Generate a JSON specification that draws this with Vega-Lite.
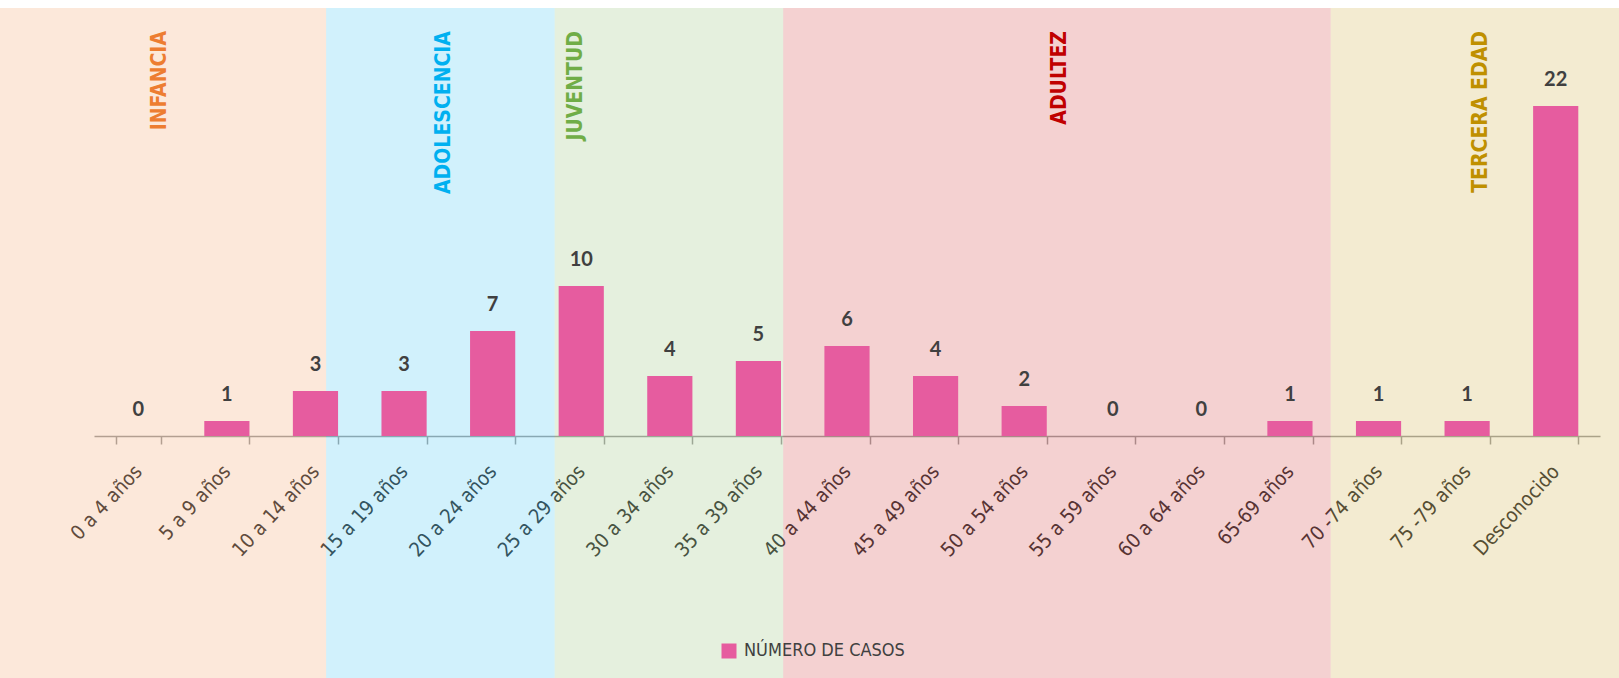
{
  "$schema": "https://vega.github.io/schema/vega-lite/v6.json",
  "width": 1506,
  "height": 428,
  "autosize": {"type": "none"},
  "padding": {"left": 94, "top": 8, "right": 19, "bottom": 242},
  "background": "white",
  "config": {"view": {"stroke": null}},
  "datasets": {
    "etapas": [
      {"etapa": "INFANCIA", "desde": -10, "hasta": 13.1, "edad_etiqueta": 3.7},
      {"etapa": "ADOLESCENCIA", "desde": 13.1, "hasta": 26, "edad_etiqueta": 19.75},
      {"etapa": "JUVENTUD", "desde": 26, "hasta": 38.9, "edad_etiqueta": 27.2},
      {"etapa": "ADULTEZ", "desde": 38.9, "hasta": 69.8, "edad_etiqueta": 54.5},
      {"etapa": "TERCERA EDAD", "desde": 69.8, "hasta": 95, "edad_etiqueta": 78.3}
    ],
    "casos": [
      {"grupo": "0 a 4 años", "casos": 0, "serie": "NÚMERO DE CASOS"},
      {"grupo": "5 a 9 años", "casos": 1, "serie": "NÚMERO DE CASOS"},
      {"grupo": "10 a 14 años", "casos": 3, "serie": "NÚMERO DE CASOS"},
      {"grupo": "15 a 19 años", "casos": 3, "serie": "NÚMERO DE CASOS"},
      {"grupo": "20 a 24 años", "casos": 7, "serie": "NÚMERO DE CASOS"},
      {"grupo": "25 a 29 años", "casos": 10, "serie": "NÚMERO DE CASOS"},
      {"grupo": "30 a 34 años", "casos": 4, "serie": "NÚMERO DE CASOS"},
      {"grupo": "35 a 39 años", "casos": 5, "serie": "NÚMERO DE CASOS"},
      {"grupo": "40 a 44 años", "casos": 6, "serie": "NÚMERO DE CASOS"},
      {"grupo": "45 a 49 años", "casos": 4, "serie": "NÚMERO DE CASOS"},
      {"grupo": "50 a 54 años", "casos": 2, "serie": "NÚMERO DE CASOS"},
      {"grupo": "55 a 59 años", "casos": 0, "serie": "NÚMERO DE CASOS"},
      {"grupo": "60 a 64 años", "casos": 0, "serie": "NÚMERO DE CASOS"},
      {"grupo": "65-69 años", "casos": 1, "serie": "NÚMERO DE CASOS"},
      {"grupo": "70 -74 años", "casos": 1, "serie": "NÚMERO DE CASOS"},
      {"grupo": "75 -79 años", "casos": 1, "serie": "NÚMERO DE CASOS"},
      {"grupo": "Desconocido", "casos": 22, "serie": "NÚMERO DE CASOS"}
    ]
  },
  "layer": [
    {
      "data": {"name": "etapas"},
      "mark": {"type": "rect", "fillOpacity": 0.18},
      "encoding": {
        "x": {"field": "desde", "type": "quantitative", "scale": {"domain": [0, 85], "nice": false, "zero": false}, "axis": null},
        "x2": {"field": "hasta"},
        "y": {"datum": 28.533, "type": "quantitative", "scale": {"domain": [0, 28.533], "nice": false}, "axis": null},
        "y2": {"datum": -20},
        "fill": {
          "field": "etapa", "type": "nominal",
          "scale": {"domain": ["INFANCIA", "ADOLESCENCIA", "JUVENTUD", "ADULTEZ", "TERCERA EDAD"], "range": ["#ED7D31", "#00B0F0", "#70AD47", "#C00000", "#BF9000"]},
          "legend": null
        }
      }
    },
    {
      "data": {"name": "etapas"},
      "mark": {"type": "text", "angle": 270, "align": "right", "baseline": "middle", "font": "Liberation Sans Narrow, DejaVu Sans Condensed, sans-serif", "fontWeight": "bold", "fontSize": 21},
      "encoding": {
        "x": {"field": "edad_etiqueta", "type": "quantitative", "scale": {"domain": [0, 85], "nice": false, "zero": false}, "axis": null},
        "y": {"datum": 27.0, "type": "quantitative"},
        "text": {"field": "etapa"},
        "fill": {"field": "etapa", "type": "nominal", "legend": null}
      }
    },
    {
      "data": {"name": "casos"},
      "mark": {"type": "bar"},
      "encoding": {
        "x": {
          "field": "grupo", "type": "nominal", "sort": null,
          "scale": {"paddingInner": 0.49, "paddingOuter": 0.245},
          "axis": {
            "title": null, "domainColor": "#A6A6A6", "domainWidth": 1.5, "tickColor": "#A6A6A6", "tickWidth": 1.5, "tickSize": 8,
            "tickBand": "extent", "labelAngle": -47, "labelAlign": "right", "labelBaseline": "middle",
            "labelFont": "Liberation Sans Narrow, DejaVu Sans Condensed, sans-serif", "labelFontSize": 20, "labelColor": "#404040",
            "labelPadding": 24, "grid": false
          }
        },
        "y": {"field": "casos", "type": "quantitative"},
        "color": {
          "field": "serie", "type": "nominal",
          "scale": {"range": ["#E65C9F"]},
          "legend": {
            "title": null, "orient": "none", "legendX": 626, "legendY": 634, "padding": 0,
            "symbolType": "square", "symbolSize": 225, "symbolStrokeWidth": 0, "symbolOpacity": 1, "labelLimit": 400,
            "labelFont": "Liberation Sans Narrow, DejaVu Sans Condensed, sans-serif", "labelFontSize": 18, "labelColor": "#404040", "labelOffset": 6
          }
        }
      }
    },
    {
      "data": {"name": "casos"},
      "mark": {"type": "text", "baseline": "alphabetic", "dy": -20, "font": "Lato, sans-serif", "fontWeight": "bold", "fontSize": 20, "color": "#404040"},
      "encoding": {
        "x": {"field": "grupo", "type": "nominal", "sort": null, "scale": {"paddingInner": 0.49, "paddingOuter": 0.245}, "axis": null},
        "y": {"field": "casos", "type": "quantitative"},
        "text": {"field": "casos", "type": "quantitative"}
      }
    }
  ],
  "resolve": {"scale": {"x": "independent"}}
}
